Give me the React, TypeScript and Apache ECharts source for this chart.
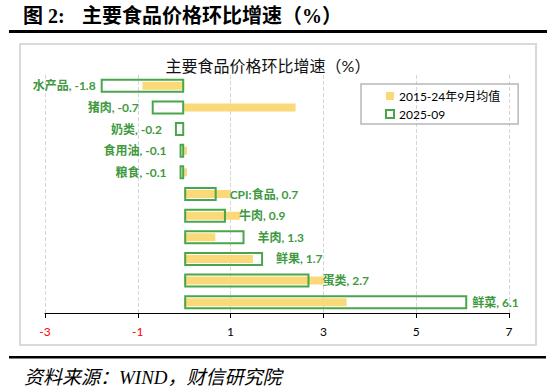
import React, { useEffect, useRef } from "react";
import * as echarts from "echarts";

const categories = ["水产品", "猪肉", "奶类", "食用油", "粮食", "CPI:食品", "牛肉", "羊肉", "鲜果", "蛋类", "鲜菜"];
const currentValues = [-1.8, -0.7, -0.2, -0.1, -0.1, 0.7, 0.9, 1.3, 1.7, 2.7, 6.1];
const averageValues = [-0.9, 2.4, 0, 0.06, 0.06, 1.0, 1.2, 0.67, 1.48, 3.0, 3.5];
const seriesNames = ["2015-24年9月均值", "2025-09"];
const xTicks = { min: -3, max: 7, interval: 2 };

const YELLOW = "#F9D978";
const GREEN = "#4AA64A";
const GREEN_TEXT = "#3F9A3F";
const FONT = 'Lato, "Noto Sans CJK SC", sans-serif';
const SERIF = '"Liberation Serif", "Noto Sans CJK SC", serif';

export default function App() {
  const ref = useRef<HTMLDivElement>(null);
  useEffect(() => {
    if (!ref.current) return;
    const chart = echarts.init(ref.current, undefined, { renderer: "svg" });
    const last = currentValues.length - 1;
    const greenData = currentValues.map((v, i) => ({
      value: v,
      label: {
        position: v < 0 ? "left" : "right",
        distance: i === 0 || i === last ? 5 : 13,
      },
    }));
    chart.setOption({
      animation: false,
      backgroundColor: "#fff",
      grid: { left: 45, right: 41, top: 75, bottom: 75, containLabel: false },
      legend: {
        orient: "vertical",
        left: 361,
        top: 84,
        padding: [6, 18, 4, 24],
        itemGap: 6,
        itemWidth: 8,
        itemHeight: 8,
        borderColor: "#b8b8b8",
        borderWidth: 1.5,
        textStyle: { fontSize: 12, color: "#000", fontFamily: FONT },
        data: [
          { name: seriesNames[0], icon: "rect", itemStyle: { color: YELLOW } },
          { name: seriesNames[1], icon: "rect", itemStyle: { color: "#fff", borderColor: GREEN, borderWidth: 2 } },
        ],
      },
      xAxis: {
        type: "value",
        min: xTicks.min,
        max: xTicks.max,
        interval: xTicks.interval,
        axisLine: { show: true, onZero: false, lineStyle: { color: "#000", width: 1 } },
        axisTick: { show: true, length: 5, lineStyle: { color: "#000" } },
        splitLine: { show: true, lineStyle: { color: "#d6d6d6", type: "dashed" } },
        axisLabel: {
          fontSize: 12,
          margin: 12,
          fontFamily: FONT,
          color: (v: number) => (Number(v) < 0 ? "#ff0000" : "#000"),
        },
      },
      yAxis: [
        { type: "category", data: categories, inverse: true, show: false },
        { type: "category", data: categories, inverse: true, show: false },
      ],
      series: [
        {
          name: seriesNames[0],
          type: "bar",
          yAxisIndex: 0,
          data: averageValues,
          barWidth: 8,
          itemStyle: { color: YELLOW },
        },
        {
          name: seriesNames[1],
          type: "bar",
          yAxisIndex: 1,
          data: greenData,
          barWidth: 14,
          itemStyle: { color: "rgba(255,255,255,0)", borderColor: GREEN, borderWidth: 2 },
          label: {
            show: true,
            fontSize: 12,
            fontWeight: "bold",
            fontFamily: FONT,
            color: GREEN_TEXT,
            formatter: (p: any) => `${p.name}, ${p.value}`,
          },
        },
      ],
      graphic: [
        {
          type: "text",
          x: 23,
          y: 16,
          style: {
            text: "图 2:",
            fontSize: 20,
            fontWeight: "bold",
            fontFamily: SERIF,
            fill: "#000",
            verticalAlign: "middle",
          },
        },
        {
          type: "text",
          x: 82,
          y: 16,
          style: {
            text: "主要食品价格环比增速（%）",
            fontSize: 20,
            fontWeight: "bold",
            fontFamily: SERIF,
            fill: "#000",
            verticalAlign: "middle",
          },
        },
        { type: "rect", shape: { x: 9, y: 30, width: 538, height: 3 }, style: { fill: "#000" } },
        {
          type: "rect",
          z: -1,
          shape: { x: 20, y: 44, width: 516, height: 301 },
          style: { fill: "none", stroke: "#d9d9d9", lineWidth: 2 },
        },
        {
          type: "text",
          x: 268,
          y: 65,
          style: {
            text: "主要食品价格环比增速（%）",
            fontSize: 16,
            fontFamily: FONT,
            fill: "#111",
            align: "center",
            verticalAlign: "middle",
          },
        },
        { type: "rect", shape: { x: 9, y: 356, width: 537, height: 2.5 }, style: { fill: "#000" } },
        {
          type: "text",
          x: 24,
          y: 377,
          style: {
            text: "资料来源：WIND，财信研究院",
            fontSize: 19,
            fontStyle: "italic",
            fontFamily: SERIF,
            fill: "#000",
            verticalAlign: "middle",
          },
        },
      ],
    });
    return () => chart.dispose();
  }, []);
  return <div ref={ref} style={{ position: "absolute", left: 0, top: 0, width: 550, height: 388 }} />;
}
